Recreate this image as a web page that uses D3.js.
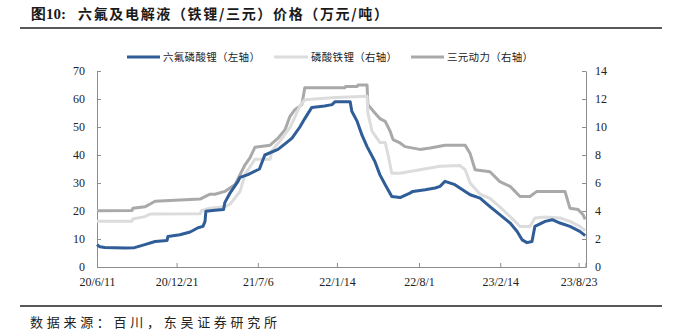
<!DOCTYPE html>
<html>
<head>
<meta charset="utf-8">
<script src="https://cdn.jsdelivr.net/npm/d3@7/dist/d3.min.js"></script>
<style>
  html, body { margin: 0; padding: 0; background: #fff; }
  svg { display: block; }
</style>
</head>
<body>
<script>
// LiPF6 price (left axis, 万元/吨)
const lipf6 = [
  ["2020-06-11", 8.0], ["2020-06-18", 7.2], ["2020-06-30", 7.0], ["2020-08-18", 6.8],
  ["2020-09-10", 6.9], ["2020-10-05", 8.0], ["2020-10-30", 9.1], ["2020-11-28", 9.5],
  ["2020-11-30", 10.9], ["2020-12-29", 11.5], ["2021-01-23", 12.5], ["2021-02-11", 14.0],
  ["2021-02-23", 14.5], ["2021-02-28", 16.3], ["2021-03-02", 19.9], ["2021-03-24", 20.3],
  ["2021-04-14", 20.5], ["2021-04-17", 23.0], ["2021-04-30", 26.5], ["2021-05-19", 30.6],
  ["2021-05-24", 32.0], ["2021-06-12", 33.0], ["2021-07-10", 35.0], ["2021-07-23", 40.0],
  ["2021-08-24", 42.0], ["2021-09-10", 44.0], ["2021-09-27", 46.0], ["2021-10-16", 50.0],
  ["2021-10-28", 53.0], ["2021-11-14", 57.0], ["2021-12-15", 57.5], ["2022-01-02", 58.0],
  ["2022-01-09", 59.0], ["2022-02-15", 59.0], ["2022-02-19", 55.6], ["2022-03-04", 52.0],
  ["2022-03-16", 47.0], ["2022-03-28", 43.0], ["2022-04-16", 37.7], ["2022-04-28", 33.0],
  ["2022-05-11", 29.4], ["2022-05-27", 25.2], ["2022-06-16", 24.8], ["2022-07-10", 26.4],
  ["2022-07-17", 27.0], ["2022-08-16", 27.6], ["2022-09-09", 28.2], ["2022-09-21", 28.8],
  ["2022-10-03", 30.6], ["2022-10-27", 29.4], ["2022-12-03", 25.8], ["2022-12-27", 24.6],
  ["2023-01-20", 21.6], ["2023-02-13", 18.7], ["2023-03-10", 15.7], ["2023-03-27", 12.7],
  ["2023-04-08", 9.7], ["2023-04-20", 8.7], ["2023-05-02", 9.1], ["2023-05-09", 14.5],
  ["2023-06-03", 16.3], ["2023-06-20", 16.9], ["2023-07-09", 15.7], ["2023-08-02", 14.5],
  ["2023-08-26", 12.7], ["2023-09-08", 11.2]
];

// LFP electrolyte price (right axis)
const lfpElectrolyte = [
  ["2020-06-11", 3.26], ["2020-09-04", 3.26], ["2020-09-06", 3.43], ["2020-10-05", 3.6],
  ["2020-10-18", 3.78], ["2021-02-16", 3.8], ["2021-02-20", 4.04], ["2021-03-12", 4.2],
  ["2021-04-17", 4.3], ["2021-04-30", 4.5], ["2021-05-24", 5.4], ["2021-06-05", 6.6],
  ["2021-06-29", 7.7], ["2021-08-05", 7.7], ["2021-08-09", 8.3], ["2021-08-29", 9.0],
  ["2021-09-22", 9.95], ["2021-10-04", 10.7], ["2021-10-16", 11.5], ["2021-10-28", 11.95],
  ["2022-01-09", 12.1], ["2022-03-28", 12.2], ["2022-03-30", 11.0], ["2022-04-09", 9.7],
  ["2022-04-28", 8.9], ["2022-05-11", 8.9], ["2022-05-18", 8.0], ["2022-05-27", 6.7],
  ["2022-06-16", 6.7], ["2022-08-03", 6.95], ["2022-09-21", 7.2], ["2022-11-08", 7.25],
  ["2022-11-21", 6.95], ["2022-12-03", 6.0], ["2022-12-27", 5.2], ["2023-01-20", 4.9],
  ["2023-02-13", 4.3], ["2023-03-10", 3.6], ["2023-04-03", 2.9], ["2023-04-27", 2.9],
  ["2023-05-09", 3.5], ["2023-06-03", 3.57], ["2023-07-09", 3.5], ["2023-08-02", 3.26],
  ["2023-08-26", 2.9], ["2023-09-08", 2.6]
];

// Ternary power electrolyte price (right axis)
const ternaryElectrolyte = [
  ["2020-06-11", 4.02], ["2020-09-04", 4.04], ["2020-09-06", 4.2], ["2020-10-05", 4.3],
  ["2020-10-18", 4.5], ["2020-10-30", 4.7], ["2021-02-16", 4.85], ["2021-03-12", 5.2],
  ["2021-03-24", 5.2], ["2021-04-17", 5.4], ["2021-05-12", 5.9], ["2021-05-24", 6.6],
  ["2021-06-05", 7.3], ["2021-06-17", 7.8], ["2021-06-29", 8.55], ["2021-08-05", 8.7],
  ["2021-08-24", 9.2], ["2021-09-10", 9.8], ["2021-09-22", 10.76], ["2021-10-04", 11.24],
  ["2021-10-21", 11.6], ["2021-10-28", 12.8], ["2022-02-02", 12.8], ["2022-02-04", 12.9],
  ["2022-03-04", 12.9], ["2022-03-06", 13.0], ["2022-03-28", 13.0], ["2022-03-30", 11.6],
  ["2022-04-16", 11.0], ["2022-04-28", 10.6], ["2022-05-11", 10.4], ["2022-05-23", 9.7],
  ["2022-05-30", 9.1], ["2022-06-16", 8.86], ["2022-06-28", 8.6], ["2022-08-03", 8.4],
  ["2022-08-28", 8.5], ["2022-10-03", 8.7], ["2022-11-21", 8.7], ["2022-12-03", 8.1],
  ["2022-12-15", 6.95], ["2023-01-20", 6.8], ["2023-02-13", 6.1], ["2023-03-10", 5.76],
  ["2023-04-03", 5.04], ["2023-04-27", 5.04], ["2023-05-14", 5.4], ["2023-07-21", 5.4],
  ["2023-08-02", 4.2], ["2023-08-22", 4.1], ["2023-09-03", 3.73], ["2023-09-08", 3.4]
];

const xTickLabels = ["2020-06-11", "2020-12-21", "2021-07-06", "2022-01-14", "2022-08-01", "2023-02-14", "2023-08-23"];
const leftTicks = [0, 10, 20, 30, 40, 50, 60, 70];
const rightTicks = [0, 2, 4, 6, 8, 10, 12, 14];

const titleLead = "图10:";
const titleText = "六氟及电解液（铁锂/三元）价格（万元/吨）";
const sourceText = "数据来源：百川，东吴证券研究所";
const seriesNames = ["六氟磷酸锂（左轴）", "磷酸铁锂（右轴）", "三元动力（右轴）"];

const W = 674, H = 336;
const plot = { left: 97, right: 586, top: 71, bottom: 267 };
const parse = d3.timeParse("%Y-%m-%d");
const fmtTick = d3.timeFormat("%y/%-m/%-d");

const svg = d3.select("body").append("svg").attr("width", W).attr("height", H);

const x = d3.scaleTime()
  .domain([parse("2020-06-11"), parse("2023-09-10")])
  .range([plot.left, plot.right]);
const yL = d3.scaleLinear().domain([0, 70]).range([plot.bottom, plot.top]);
const yR = d3.scaleLinear().domain([0, 14]).range([plot.bottom, plot.top]);

const serif = "'Liberation Serif', 'Times New Roman', serif";
const cjk = "'Noto Sans CJK SC', sans-serif";
const axisColor = "#8c8c8c";

// Title and rules
const title = svg.append("text").attr("x", 31).attr("y", 19)
  .attr("font-weight", "bold").attr("font-size", 14).attr("fill", "#1a1a1a");
title.append("tspan").attr("font-family", serif).attr("font-size", 15).text(titleLead);
title.append("tspan").attr("x", 78).attr("font-family", cjk).attr("textLength", 310).text(titleText);

svg.append("line").attr("x1", 20).attr("x2", 662).attr("y1", 28).attr("y2", 28)
  .attr("stroke", "#222").attr("stroke-width", 1.3);
svg.append("line").attr("x1", 20).attr("x2", 662).attr("y1", 306).attr("y2", 306)
  .attr("stroke", "#222").attr("stroke-width", 1.3);
svg.append("text").attr("x", 30).attr("y", 327).attr("font-family", cjk)
  .attr("font-size", 13).attr("fill", "#222").attr("textLength", 247).text(sourceText);

// Axes
const leftAxis = d3.axisLeft(yL).tickValues(leftTicks).tickSize(-4).tickPadding(12).tickSizeOuter(0);
const rightAxis = d3.axisRight(yR).tickValues(rightTicks).tickSize(-4).tickPadding(12).tickSizeOuter(0);
const bottomAxis = d3.axisBottom(x).tickValues(xTickLabels.map(parse)).tickFormat(fmtTick)
  .tickSize(-4).tickPadding(10).tickSizeOuter(0);

function styleAxis(g) {
  g.select(".domain").attr("stroke", axisColor);
  g.selectAll(".tick line").attr("stroke", axisColor);
  g.selectAll(".tick text").attr("fill", "#222").attr("font-family", serif).attr("font-size", 12);
}

svg.append("g").attr("transform", `translate(${plot.left},0)`).call(leftAxis).call(styleAxis);
svg.append("g").attr("transform", `translate(${plot.right},0)`).call(rightAxis).call(styleAxis)
  .selectAll(".tick text").attr("x", 9);
const gx = svg.append("g").attr("transform", `translate(0,${plot.bottom})`).call(bottomAxis).call(styleAxis);
// end tick at right edge of the time axis
gx.append("line").attr("x1", plot.right).attr("x2", plot.right).attr("y1", 0).attr("y2", -4).attr("stroke", axisColor);

// Lines
const lineL = d3.line().x(d => x(parse(d[0]))).y(d => yL(d[1]));
const lineR = d3.line().x(d => x(parse(d[0]))).y(d => yR(d[1]));

const series = [
  { data: ternaryElectrolyte, gen: lineR, color: "#a9a9a9" },
  { data: lfpElectrolyte, gen: lineR, color: "#dcdcdc" },
  { data: lipf6, gen: lineL, color: "#2f5d98" }
];
series.forEach(s => {
  svg.append("path").datum(s.data).attr("d", s.gen)
    .attr("fill", "none").attr("stroke", s.color).attr("stroke-width", 3)
    .attr("stroke-linejoin", "round");
});

// Legend
const legendItems = [
  { name: seriesNames[0], color: "#2f5d98", x0: 127, x1: 160, tx: 163 },
  { name: seriesNames[1], color: "#dcdcdc", x0: 274, x1: 308, tx: 311 },
  { name: seriesNames[2], color: "#a9a9a9", x0: 411, x1: 444, tx: 447 }
];
const lg = svg.append("g");
legendItems.forEach(it => {
  lg.append("line").attr("x1", it.x0).attr("x2", it.x1).attr("y1", 57).attr("y2", 57)
    .attr("stroke", it.color).attr("stroke-width", 3);
  lg.append("text").attr("x", it.tx).attr("y", 61).attr("font-family", cjk)
    .attr("font-size", 10.5).attr("fill", "#222").attr("letter-spacing", 0.3).text(it.name);
});
</script>
</body>
</html>
